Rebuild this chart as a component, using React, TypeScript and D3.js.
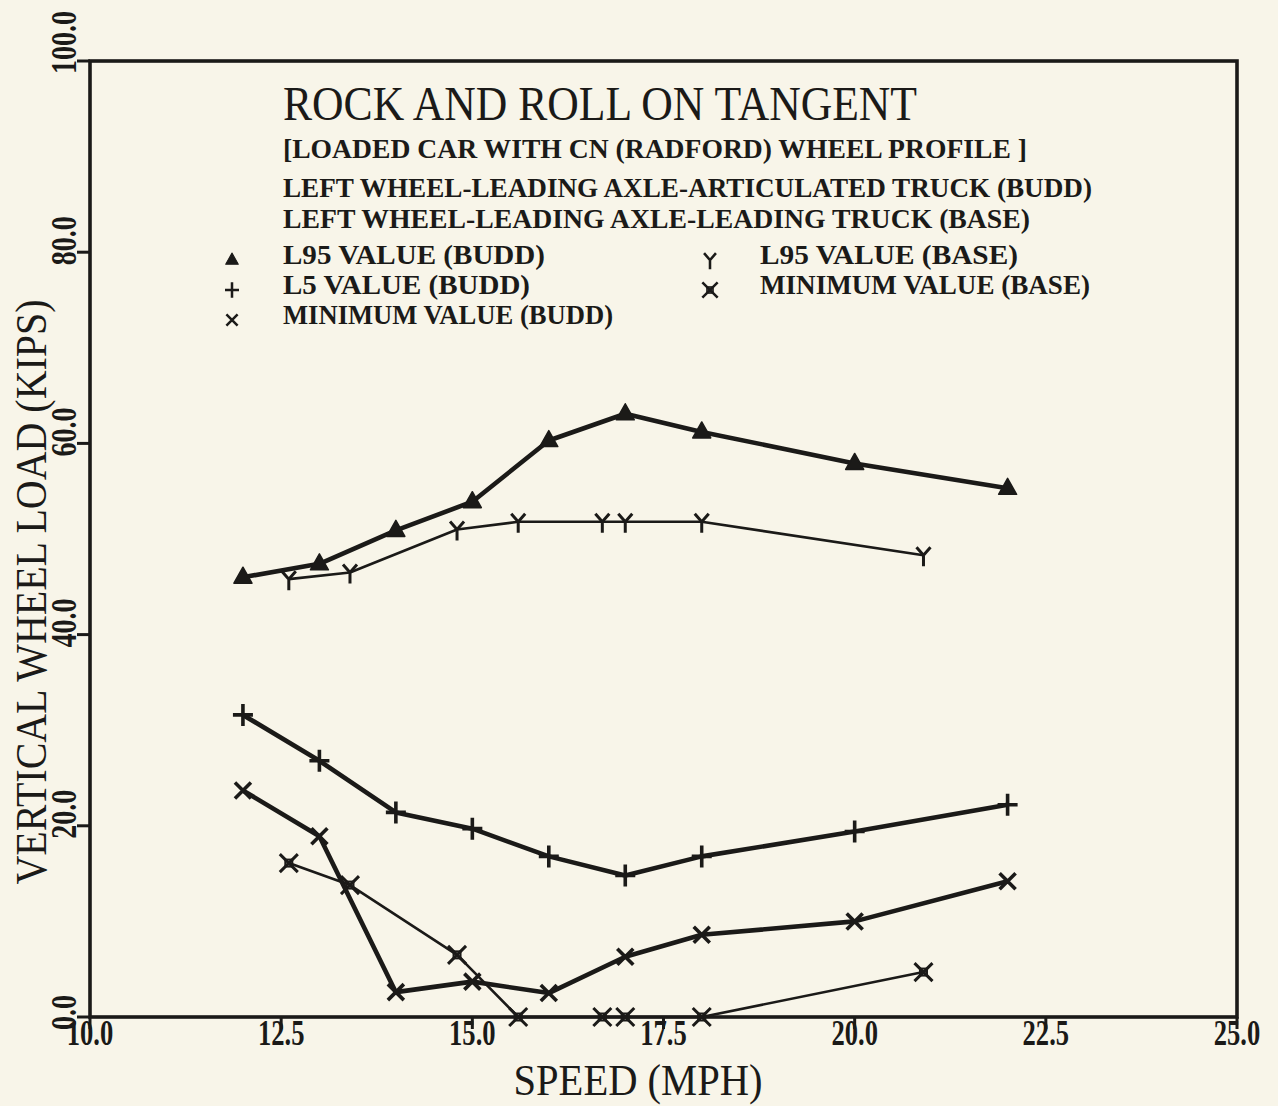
import React from "react";
import * as d3 from "d3";

// Vertical wheel load versus speed, rock and roll on tangent track
const SPEED_BUDD = [12, 13, 14, 15, 16, 17, 18, 20, 22];
const L95_BUDD = [46.0, 47.4, 50.9, 53.9, 60.3, 63.1, 61.2, 57.9, 55.3];
const L5_BUDD = [31.6, 26.8, 21.4, 19.7, 16.8, 14.8, 16.8, 19.4, 22.2];
const MIN_BUDD = [23.7, 18.9, 2.6, 3.7, 2.5, 6.3, 8.6, 10.0, 14.2];

const SPEED_BASE = [12.6, 13.4, 14.8, 15.6, 16.7, 17.0, 18.0, 20.9];
const L95_BASE = [45.8, 46.5, 51.0, 51.8, 51.8, 51.8, 51.8, 48.3];
const MIN_BASE = [16.1, 13.8, 6.5, 0, 0, 0, 0, 4.7];

const X_TICKS = [10, 12.5, 15, 17.5, 20, 22.5, 25];
const Y_TICKS = [0, 20, 40, 60, 80, 100];

const TITLE = "ROCK AND ROLL ON TANGENT";
const SUBTITLES = [
  "[LOADED CAR WITH CN (RADFORD) WHEEL PROFILE ]",
  "LEFT WHEEL-LEADING AXLE-ARTICULATED TRUCK (BUDD)",
  "LEFT WHEEL-LEADING AXLE-LEADING TRUCK (BASE)",
];
const LEGEND_LEFT = ["L95 VALUE (BUDD)", "L5 VALUE (BUDD)", "MINIMUM VALUE (BUDD)"];
const LEGEND_RIGHT = ["L95 VALUE (BASE)", "MINIMUM VALUE (BASE)"];
const X_LABEL = "SPEED (MPH)";
const Y_LABEL = "VERTICAL WHEEL LOAD (KIPS)";

const INK = "#1b1a18";
const PAPER = "#f8f5e9";
const FONT = "'Liberation Serif', 'DejaVu Serif', serif";

type MarkerType = "triangle" | "plus" | "cross" | "ybar" | "boxcross";

function Marker({ type, x, y, s = 1 }: { type: MarkerType; x: number; y: number; s?: number }) {
  const t = `translate(${x},${y}) scale(${s})`;
  switch (type) {
    case "triangle":
      return <path transform={t} d="M0,-10 L9,6 L-9,6 Z" fill={INK} stroke={INK} strokeWidth={1.5} strokeLinejoin="round" />;
    case "plus":
      return <path transform={t} d="M-10,0 H10 M0,-11 V11" stroke={INK} strokeWidth={3.6} fill="none" />;
    case "cross":
      return <path transform={t} d="M-8,-8 L8,8 M-8,8 L8,-8" stroke={INK} strokeWidth={3.6} fill="none" />;
    case "ybar":
      return <path transform={t} d="M-7,-8 L0,0 L7,-8 M0,0 V11" stroke={INK} strokeWidth={3} fill="none" />;
    case "boxcross":
      return (
        <g transform={t}>
          <path d="M-9,-9 L9,9 M-9,9 L9,-9" stroke={INK} strokeWidth={3} fill="none" />
          <rect x={-3.5} y={-3.5} width={7} height={7} stroke={INK} strokeWidth={2} fill="none" />
        </g>
      );
  }
  return null;
}

export default function App() {
  const W = 1278;
  const H = 1106;
  const x = d3.scaleLinear().domain([10, 25]).range([90, 1237]);
  const y = d3.scaleLinear().domain([0, 100]).range([1017, 61]);

  const line = d3
    .line<[number, number]>()
    .x((d) => x(d[0]))
    .y((d) => y(d[1]));

  const series: { xs: number[]; ys: number[]; marker: MarkerType; width: number }[] = [
    { xs: SPEED_BASE, ys: MIN_BASE, marker: "boxcross", width: 2.6 },
    { xs: SPEED_BASE, ys: L95_BASE, marker: "ybar", width: 2.6 },
    { xs: SPEED_BUDD, ys: MIN_BUDD, marker: "cross", width: 4.6 },
    { xs: SPEED_BUDD, ys: L5_BUDD, marker: "plus", width: 4.6 },
    { xs: SPEED_BUDD, ys: L95_BUDD, marker: "triangle", width: 4.6 },
  ];

  const fmt = d3.format(".1f");
  const legendLeftMarkers: MarkerType[] = ["triangle", "plus", "cross"];
  const legendRightMarkers: MarkerType[] = ["ybar", "boxcross"];
  const subtitleWidths = [744, 809, 747];
  const subtitleBaselines = [158, 197, 228];
  const legendLeftWidths = [262, 247, 330];
  const legendRightWidths = [258, 330];
  const legendBaselines = [264, 294, 324];
  const blockFont = 27;

  return (
    <svg
      width={W}
      height={H}
      viewBox={`0 0 ${W} ${H}`}
      style={{ position: "absolute", left: 0, top: 0, display: "block" }}
      fontFamily={FONT}
    >
      <rect x={0} y={0} width={W} height={H} fill={PAPER} />

      {/* frame */}
      <rect
        x={x(10)}
        y={y(100)}
        width={x(25) - x(10)}
        height={y(0) - y(100)}
        fill="none"
        stroke={INK}
        strokeWidth={3.6}
      />

      {/* x axis ticks and labels */}
      {X_TICKS.map((t) => (
        <g key={`xt${t}`}>
          <line x1={x(t)} x2={x(t)} y1={y(0)} y2={y(0) + 12} stroke={INK} strokeWidth={3} />
          <text
            transform={`translate(${x(t)},${1045}) scale(0.76,1)`}
            textAnchor="middle"
            fontSize={35}
            fontWeight="bold"
            fill={INK}
          >
            {fmt(t)}
          </text>
        </g>
      ))}

      {/* y axis ticks and labels */}
      {Y_TICKS.map((t) => (
        <g key={`yt${t}`}>
          <line x1={x(10) - 13} x2={x(10)} y1={y(t)} y2={y(t)} stroke={INK} strokeWidth={3} />
          <text
            transform={`translate(${76},${y(t) + 13}) rotate(-90) scale(0.8,1)`}
            textAnchor="start"
            fontSize={35}
            fontWeight="bold"
            fill={INK}
          >
            {fmt(t)}
          </text>
        </g>
      ))}

      {/* axis titles */}
      <text
        x={638}
        y={1095}
        textAnchor="middle"
        fontSize={44}
        fill={INK}
        textLength={249}
        lengthAdjust="spacingAndGlyphs"
      >
        {X_LABEL}
      </text>
      <text
        transform={`translate(46,592) rotate(-90)`}
        textAnchor="middle"
        fontSize={44}
        fill={INK}
        textLength={585}
        lengthAdjust="spacingAndGlyphs"
      >
        {Y_LABEL}
      </text>

      {/* title block */}
      <text x={283} y={120} fontSize={49} fill={INK} textLength={634} lengthAdjust="spacingAndGlyphs">
        {TITLE}
      </text>
      {SUBTITLES.map((s, i) => (
        <text
          key={s}
          x={283}
          y={subtitleBaselines[i]}
          fontSize={blockFont}
          fontWeight="bold"
          fill={INK}
          textLength={subtitleWidths[i]}
          lengthAdjust="spacingAndGlyphs"
        >
          {s}
        </text>
      ))}

      {/* legend */}
      {LEGEND_LEFT.map((s, i) => (
        <g key={s}>
          <Marker type={legendLeftMarkers[i]} x={232} y={legendBaselines[i] - 4} s={0.7} />
          <text
            x={283}
            y={legendBaselines[i]}
            fontSize={blockFont}
            fontWeight="bold"
            fill={INK}
            textLength={legendLeftWidths[i]}
            lengthAdjust="spacingAndGlyphs"
          >
            {s}
          </text>
        </g>
      ))}
      {LEGEND_RIGHT.map((s, i) => (
        <g key={s}>
          <Marker type={legendRightMarkers[i]} x={710} y={legendBaselines[i] - 4} s={0.85} />
          <text
            x={760}
            y={legendBaselines[i]}
            fontSize={blockFont}
            fontWeight="bold"
            fill={INK}
            textLength={legendRightWidths[i]}
            lengthAdjust="spacingAndGlyphs"
          >
            {s}
          </text>
        </g>
      ))}

      {/* data series */}
      {series.map((sr, si) => {
        const pts: [number, number][] = sr.xs.map((v, i) => [v, sr.ys[i]]);
        return (
          <g key={`s${si}`}>
            <path
              d={line(pts) ?? ""}
              fill="none"
              stroke={INK}
              strokeWidth={sr.width}
              strokeLinejoin="round"
            />
            {pts.map((p, i) => (
              <Marker key={i} type={sr.marker} x={x(p[0])} y={y(p[1])} />
            ))}
          </g>
        );
      })}
    </svg>
  );
}
